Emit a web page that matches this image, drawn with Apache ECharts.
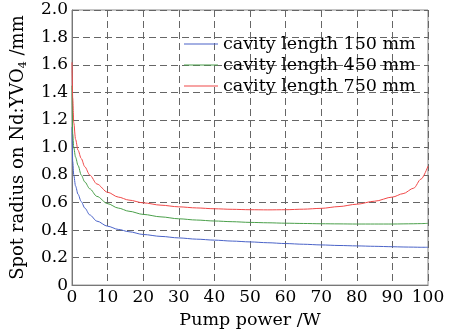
<!DOCTYPE html>
<html>
<head>
<meta charset="utf-8">
<script src="https://cdn.jsdelivr.net/npm/echarts@6/dist/echarts.min.js"></script>
<style>
  html, body { margin: 0; padding: 0; background: #fff; }
  #main { width: 455px; height: 334px; }
</style>
</head>
<body>
<div id="main"></div>
<script>
// pump power (W)
var power = [0, 0.2, 0.5, 1, 1.7, 2.6, 3.6, 5, 7, 10, 13, 16, 20, 25, 30, 35, 40, 45, 50, 55, 60, 65, 70, 75, 80, 85, 90, 93, 96, 98, 100];
// spot radius (mm)
var len150 = [1.15, 0.9, 0.8, 0.72, 0.66, 0.607, 0.56, 0.51, 0.465, 0.428, 0.405, 0.388, 0.368, 0.354, 0.343, 0.334, 0.327, 0.32, 0.314, 0.308, 0.302, 0.297, 0.292, 0.288, 0.285, 0.282, 0.279, 0.277, 0.276, 0.275, 0.275];
var len450 = [1.45, 1.1, 1.0, 0.93, 0.87, 0.8, 0.75, 0.7, 0.645, 0.592, 0.56, 0.537, 0.514, 0.496, 0.482, 0.473, 0.466, 0.461, 0.456, 0.453, 0.45, 0.448, 0.446, 0.445, 0.444, 0.444, 0.444, 0.445, 0.446, 0.447, 0.449];
var len750 = [1.62, 1.36, 1.18, 1.06, 0.98, 0.92, 0.86, 0.8, 0.735, 0.675, 0.64, 0.618, 0.598, 0.581, 0.569, 0.561, 0.555, 0.551, 0.548, 0.547, 0.548, 0.552, 0.558, 0.571, 0.588, 0.61, 0.64, 0.665, 0.705, 0.77, 0.865];
var seriesNames = ['cavity length 150 mm', 'cavity length 450 mm', 'cavity length 750 mm'];
var colors = ['#4a63c8', '#4a9f4a', '#f04848'];

var fontFamily = 'DejaVu Serif';

function pairs(ys) {
  return power.map(function (x, i) { return [x, ys[i]]; });
}

var chart = echarts.init(document.getElementById('main'));

var gridLine = {
  show: true,
  lineStyle: { color: '#666', type: [7, 4], width: 1 }
};

var option = {
  animation: false,
  color: colors,
  grid: {
    left: 72,
    right: 27,
    top: 10,
    bottom: 46,
    show: true,
    borderColor: '#888',
    borderWidth: 1
  },
  legend: {
    orient: 'vertical',
    left: 179,
    top: 30,
    icon: 'rect',
    itemWidth: 34,
    itemHeight: 1,
    itemGap: 3,
    textStyle: { fontFamily: fontFamily, fontSize: 17.5, color: '#000', lineHeight: 18, padding: [0, 0, 0, 0] },
    data: seriesNames
  },
  xAxis: {
    type: 'value',
    min: 0,
    max: 100,
    interval: 10,
    name: 'Pump power /W',
    nameLocation: 'middle',
    nameGap: 23,
    nameTextStyle: { fontFamily: fontFamily, fontSize: 17.5, color: '#000' },
    axisLine: { show: true, lineStyle: { color: '#777' } },
    axisTick: { show: false },
    axisLabel: { fontFamily: fontFamily, fontSize: 17, color: '#000', margin: 4 },
    splitLine: gridLine
  },
  yAxis: {
    type: 'value',
    min: 0,
    max: 2.0,
    interval: 0.2,
    name: 'Spot radius on Nd:YVO{sub|4} /mm',
    nameLocation: 'middle',
    nameGap: 43,
    nameTextStyle: {
      fontFamily: fontFamily,
      fontSize: 18,
      color: '#000',
      rich: {
        sub: { fontFamily: fontFamily, fontSize: 11, color: '#000', padding: [10, 0, 0, 0] }
      }
    },
    axisLine: { show: true, lineStyle: { color: '#777' } },
    axisTick: { show: false },
    axisLabel: {
      fontFamily: fontFamily,
      fontSize: 17,
      color: '#000',
      margin: 4,
      formatter: function (v) { return v === 0 ? '0' : v.toFixed(1); }
    },
    splitLine: gridLine
  },
  series: [len150, len450, len750].map(function (ys, i) {
    return {
      name: seriesNames[i],
      type: 'line',
      data: pairs(ys),
      showSymbol: false,
      symbol: 'none',
      smooth: 0.3,
      smoothMonotone: 'x',
      lineStyle: { width: 1, color: colors[i] },
      itemStyle: { color: colors[i] }
    };
  })
};

chart.setOption(option);
</script>
</body>
</html>
